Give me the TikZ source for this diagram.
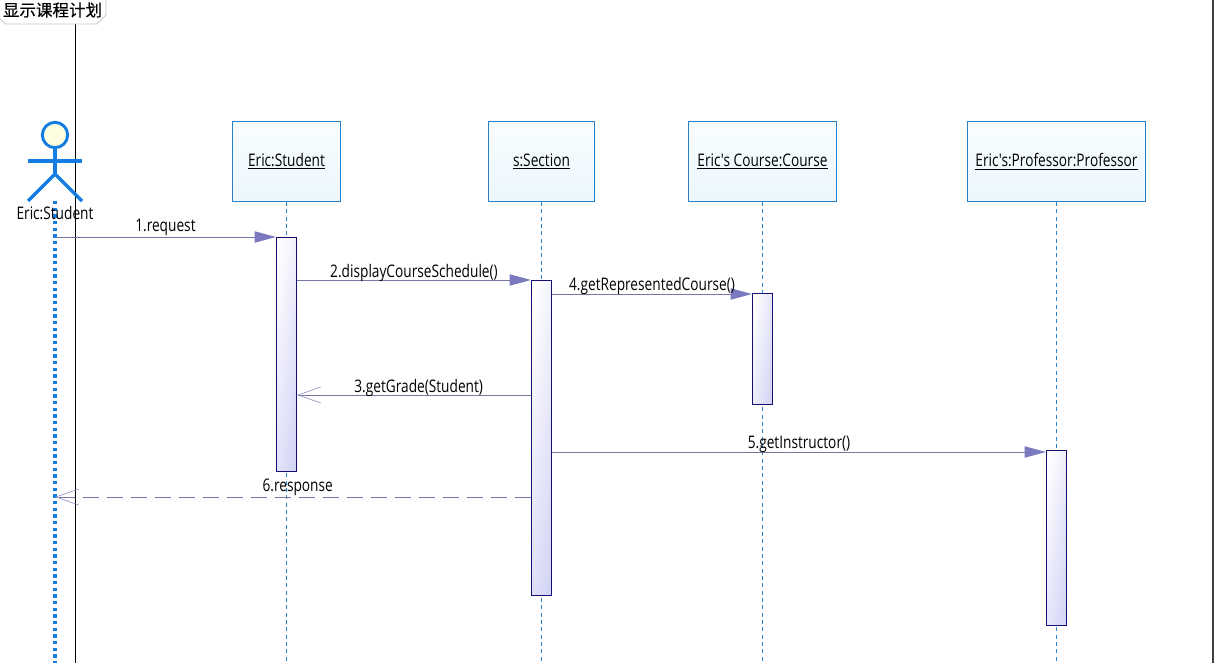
\documentclass[tikz,border=0pt]{standalone}
\usepackage{fontspec}
\defaultfontfeatures[\rmfamily]{}
\setmainfont[FakeStretch=0.79]{Open Sans}
\newfontfamily\cjk[FakeBold=0.3]{Noto Sans CJK SC}
\usetikzlibrary{positioning,arrows.meta}
\definecolor{lifeblue}{RGB}{20,125,225}
\definecolor{headblue}{RGB}{40,128,200}
\definecolor{headtop}{RGB}{248,253,255}
\definecolor{headbot}{RGB}{235,247,253}
\definecolor{barnavy}{RGB}{20,15,115}
\definecolor{barright}{RGB}{212,212,246}
\definecolor{msgline}{RGB}{120,118,165}
\definecolor{msgtip}{RGB}{124,122,190}
\definecolor{replytip}{RGB}{150,148,200}

\begin{document}
\begin{tikzpicture}[
  x=0.75pt, y=-0.75pt,
  txt/.style={font=\fontsize{13pt}{15pt}\selectfont, inner sep=0pt, text=black},
  head/.style={txt, rectangle, draw=headblue, line width=0.65pt, top color=headtop, bottom color=headbot, minimum height=60pt},
  bar/.style={rectangle, anchor=north, draw=barnavy, line width=0.7pt, left color=white, right color=barright, shading angle=82, minimum width=15.25pt, inner sep=0pt},
  life/.style={headblue, line width=0.6pt, dash pattern=on 3pt off 2.5pt},
  msg/.style={draw=msgline, line width=0.7pt, -{Triangle[length=16pt,width=8.5pt,fill=msgtip,color=msgtip]}},
  reply/.style={draw=msgline, line width=0.7pt, -{Straight Barb[length=17pt,width=12pt,line width=0.5pt,color=replytip]}},
  lbl/.style={txt, text depth=0pt},
  stick/.style={lifeblue, line width=2.4pt}
]
\useasboundingbox (0,0) rectangle (1217,663);
% frame lines and tab
\draw[black, line width=0.75pt] (75,24) -- (75,663);
\draw[black!75, line width=1.2pt] (1213,0) -- (1213,663);
\node[inner sep=0pt, font=\cjk\fontsize{12.4pt}{14pt}\selectfont] (tab) at (52.5,10) {显示课程计划};
\draw[black!22, line width=0.6pt] (106,0) -- (106,15) -- (97,24) -- (6,24) -- (0,19);

% heads
\node[head, minimum width=80.5pt] (stu) at (286.5,161.5) {\underline{Eric:Student}};
\node[head, minimum width=79.5pt] (sec) at (541.5,161.5) {\underline{s:Section}};
\node[head, minimum width=111.5pt] (crs) at (762.5,161.5) {\underline{Eric's Course:Course}};
\node[head, minimum width=133.5pt] (prf) at (1056.5,161.5) {\underline{Eric's:Professor:Professor}};

% lifelines
\coordinate (end) at (0,663);
\draw[life] (stu.south) -- (stu.south |- end);
\draw[life] (sec.south) -- (sec.south |- end);
\draw[life] (crs.south) -- (crs.south |- end);
\draw[life] (prf.south) -- (prf.south |- end);

% actor
\node[circle, draw=lifeblue, line width=2.2pt, fill=yellow!12, minimum size=19pt, inner sep=0pt] (act) at (55,135) {};
\coordinate (hip) at (55,174);
\coordinate (armL) at (28,161);
\coordinate (armR) at (82,161);
\coordinate (footL) at (28,201);
\coordinate (footR) at (82,201);
\draw[stick] (act.south) -- (hip);
\draw[stick] (armL) -- (armR);
\draw[stick] (footL) -- (hip) -- (footR);
\draw[lifeblue, line width=2.6pt, dash pattern=on 2.6pt off 2.4pt] (hip |- footL) -- (hip |- end);
\node[txt] (actname) at (55,213) {Eric:Student};

% activations
\node[bar, minimum height=175.5pt] (stubar) at (286.5,237) {};
\node[bar, minimum height=236.5pt] (secbar) at (541.5,280) {};
\node[bar, minimum height=83.5pt] (crsbar) at (762.5,293) {};
\node[bar, minimum height=131.5pt] (prfbar) at (1056.5,450) {};

% messages
\coordinate (m1) at (0,237);
\coordinate (m2) at (0,280);
\coordinate (m4) at (0,294);
\coordinate (m3) at (0,395);
\coordinate (m5) at (0,452);
\coordinate (m6) at (0,497);
\draw[msg] (hip |- m1) -- node[lbl, above=4pt] {1.request} (stubar.west |- m1);
\draw[msg] (stubar.east |- m2) -- node[lbl, above=1.5pt] {2.displayCourseSchedule()} (secbar.west |- m2);
\draw[reply] (secbar.west |- m3) -- node[lbl, above=1.5pt, pos=0.48] {3.getGrade(Student)} (stubar.east |- m3);
\draw[msg] (secbar.east |- m4) -- node[lbl, above=2.25pt] {4.getRepresentedCourse()} (crsbar.west |- m4);
\draw[msg] (secbar.east |- m5) -- node[lbl, above=2.25pt] {5.getInstructor()} (prfbar.west |- m5);
\draw[reply, dash pattern=on 12pt off 6pt] (secbar.west |- m6) -- node[lbl, above=3.75pt, pos=0.49] {6.response} (hip |- m6);
\end{tikzpicture}
\end{document}
